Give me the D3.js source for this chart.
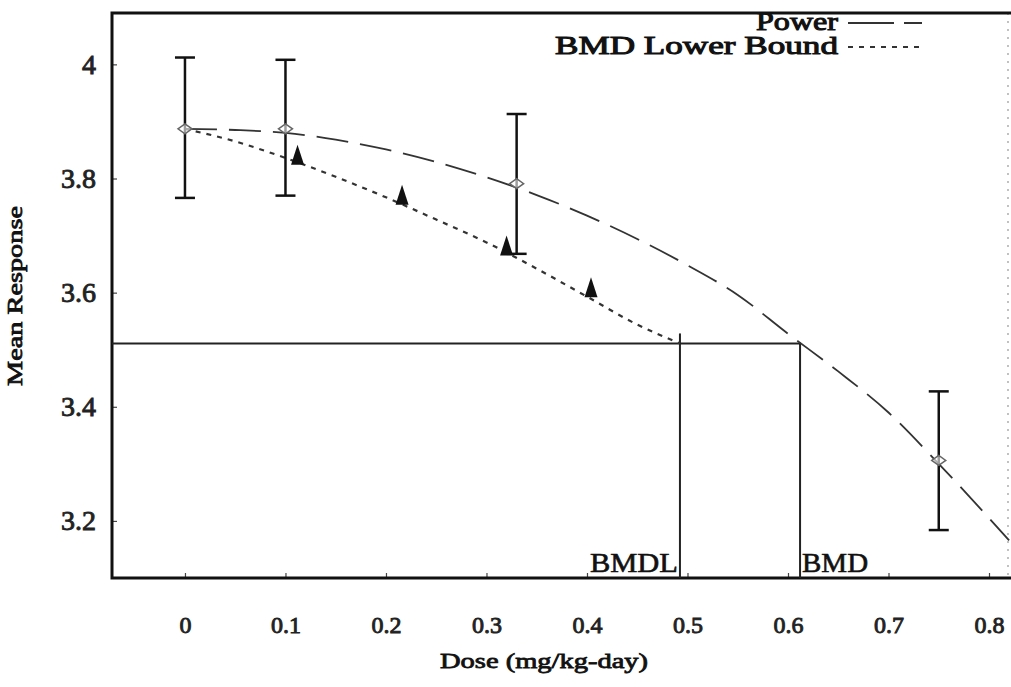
<!DOCTYPE html>
<html>
<head>
<meta charset="utf-8">
<script src="https://cdn.jsdelivr.net/npm/d3@7"></script>
<style>
  body { margin: 0; background: #fff; }
</style>
</head>
<body>
<div id="plot"></div>
<script>
////////////////////////////////////////////////////////////////////////
// Data

// observed group means with error bars
let doses = [0, 0.1, 0.33, 0.75];
let means = [3.887, 3.887, 3.791, 3.306];
let upper = [4.012, 4.008, 3.913, 3.427];
let lower = [3.766, 3.770, 3.668, 3.184];

// fitted power model curve
let powerDose = [0, 0.05, 0.1, 0.15, 0.2, 0.25, 0.3, 0.35, 0.4, 0.45, 0.5, 0.55, 0.6, 0.65, 0.7, 0.75, 0.8, 0.82];
let powerResp = [3.887, 3.885, 3.880, 3.868, 3.851, 3.829, 3.802, 3.771, 3.735, 3.694, 3.648, 3.596, 3.528, 3.462, 3.390, 3.300, 3.205, 3.166];

// BMD lower bound curve
let lowerDose = [0, 0.05, 0.1, 0.15, 0.2, 0.25, 0.3, 0.35, 0.4, 0.45, 0.4925];
let lowerResp = [3.887, 3.865, 3.836, 3.803, 3.767, 3.728, 3.688, 3.642, 3.593, 3.544, 3.511];

// triangle markers on the lower bound
let triDose = [0.112, 0.216, 0.32, 0.404];
let triResp = [3.838, 3.768, 3.679, 3.606];

let bmr = 3.511;
let bmd = 0.612;
let bmdl = 0.4925;

let xTicks = [0, 0.1, 0.2, 0.3, 0.4, 0.5, 0.6, 0.7, 0.8];
let yTicks = [3.2, 3.4, 3.6, 3.8, 4];

////////////////////////////////////////////////////////////////////////
// Scales

let width = 1011, height = 687;
let box = { left: 112, right: 1008, top: 13, bottom: 578 };
let serif = "'Liberation Serif', 'Times New Roman', serif";

let xScale = d3.scaleLinear().domain([-0.0726, 0.8189]).range([box.left, box.right]);
let yScale = d3.scaleLinear().domain([3.1, 4.09]).range([box.bottom, box.top]);

let svg = d3.select("#plot").append("svg")
  .attr("width", width)
  .attr("height", height);

let line = d3.line()
  .x(d => xScale(d[0]))
  .y(d => yScale(d[1]))
  .curve(d3.curveMonotoneX);

// the scan's text is a heavy serif; thicken the regular face with a stroke
function heavy(sel, size, w) {
  return sel
    .attr("font-family", serif)
    .attr("font-size", size)
    .attr("fill", "#111")
    .attr("stroke", "#111")
    .attr("stroke-width", w);
}

////////////////////////////////////////////////////////////////////////
// Frame and axes

// right edge of the box is faint in the scan
svg.append("line")
  .attr("x1", box.right).attr("x2", box.right)
  .attr("y1", box.top).attr("y2", box.bottom)
  .attr("stroke", "#999")
  .attr("stroke-width", 1.2)
  .attr("stroke-dasharray", "2 6");

let xAxis = svg.append("g")
  .attr("transform", "translate(0," + box.bottom + ")")
  .call(d3.axisBottom(xScale).tickValues(xTicks).tickSize(-5).tickPadding(38)
    .tickFormat(d => d === 0 ? "0" : d3.format(".1f")(d)));

let yAxis = svg.append("g")
  .attr("transform", "translate(" + box.left + ",0)")
  .call(d3.axisLeft(yScale).tickValues(yTicks).tickSize(-5).tickPadding(16)
    .tickFormat(d => d === 4 ? "4" : d3.format(".1f")(d)));

[xAxis, yAxis].forEach(g => {
  g.select(".domain").remove();
  g.selectAll(".tick line").attr("stroke", "#444").attr("stroke-width", 1.2);
  g.selectAll(".tick text").call(heavy, 24, 0.9).attr("fill", "#222").attr("stroke", "#222");
});
yAxis.selectAll(".tick text").attr("font-size", 28);

// box: left, top and bottom are heavy
svg.append("path")
  .attr("d", "M" + width + "," + box.top + " H" + box.left + " V" + box.bottom + " H" + width)
  .attr("fill", "none")
  .attr("stroke", "#111")
  .attr("stroke-width", 3);

////////////////////////////////////////////////////////////////////////
// BMR / BMD / BMDL reference lines

svg.append("path")
  .attr("d", "M" + box.left + "," + yScale(bmr) + " H" + xScale(bmd) + " V" + box.bottom)
  .attr("fill", "none")
  .attr("stroke", "#222")
  .attr("stroke-width", 2);

svg.append("line")
  .attr("x1", xScale(bmdl)).attr("x2", xScale(bmdl))
  .attr("y1", yScale(bmr) - 10).attr("y2", box.bottom)
  .attr("stroke", "#222")
  .attr("stroke-width", 2);

svg.append("text")
  .attr("x", xScale(bmdl) - 2)
  .attr("y", box.bottom - 6)
  .attr("text-anchor", "end")
  .call(heavy, 27, 0.6)
  .attr("textLength", 88)
  .attr("lengthAdjust", "spacingAndGlyphs")
  .text("BMDL");

svg.append("text")
  .attr("x", xScale(bmd) + 2)
  .attr("y", box.bottom - 6)
  .call(heavy, 27, 0.6)
  .attr("textLength", 66)
  .attr("lengthAdjust", "spacingAndGlyphs")
  .text("BMD");

////////////////////////////////////////////////////////////////////////
// Curves

svg.append("path")
  .datum(d3.zip(powerDose, powerResp))
  .attr("d", line)
  .attr("fill", "none")
  .attr("stroke", "#333")
  .attr("stroke-width", 1.8)
  .attr("stroke-dasharray", "32 12");

svg.append("path")
  .datum(d3.zip(lowerDose, lowerResp))
  .attr("d", line)
  .attr("fill", "none")
  .attr("stroke", "#333")
  .attr("stroke-width", 2.2)
  .attr("stroke-dasharray", "5 6");

////////////////////////////////////////////////////////////////////////
// Error bars and means

let bars = svg.append("g").selectAll("g")
  .data(d3.range(doses.length))
  .enter()
  .append("g");

bars.append("line")
  .attr("x1", i => xScale(doses[i])).attr("x2", i => xScale(doses[i]))
  .attr("y1", i => yScale(upper[i])).attr("y2", i => yScale(lower[i]))
  .attr("stroke", "#111").attr("stroke-width", 2.5);

[upper, lower].forEach(arr => {
  bars.append("line")
    .attr("x1", i => xScale(doses[i]) - 10).attr("x2", i => xScale(doses[i]) + 10)
    .attr("y1", i => yScale(arr[i])).attr("y2", i => yScale(arr[i]))
    .attr("stroke", "#111").attr("stroke-width", 2.5);
});

bars.append("path")
  .attr("transform", i => "translate(" + xScale(doses[i]) + "," + yScale(means[i]) + ")")
  .attr("d", "M-7,0 L0,-5 L7,0 L0,5 Z")
  .attr("fill", "#fff")
  .attr("fill-opacity", 0.6)
  .attr("stroke", "#666")
  .attr("stroke-width", 1.5);

// triangles
svg.append("g").selectAll("path")
  .data(d3.range(triDose.length))
  .enter()
  .append("path")
  .attr("transform", i => "translate(" + xScale(triDose[i]) + "," + yScale(triResp[i]) + ")")
  .attr("d", "M0,-12 L6.5,8 L-6.5,8 Z")
  .attr("fill", "#111");

////////////////////////////////////////////////////////////////////////
// Legend

let legend = [
  { label: "Power", dash: "46 10 18 0", y: 30, w: 1.8, len: 82 },
  { label: "BMD Lower Bound", dash: "5 6", y: 54, w: 2.2, len: 283 }
];

legend.forEach(d => {
  svg.append("text")
    .attr("x", 838).attr("y", d.y)
    .attr("text-anchor", "end")
    .call(heavy, 25, 1)
    .attr("textLength", d.len)
    .attr("lengthAdjust", "spacingAndGlyphs")
    .text(d.label);
  svg.append("line")
    .attr("x1", 848).attr("x2", 922)
    .attr("y1", d.y - 7).attr("y2", d.y - 7)
    .attr("stroke", "#333")
    .attr("stroke-width", d.w)
    .attr("stroke-dasharray", d.dash);
});

////////////////////////////////////////////////////////////////////////
// Axis titles

svg.append("text")
  .attr("x", 544).attr("y", 668)
  .attr("text-anchor", "middle")
  .call(heavy, 22, 0.8)
  .attr("textLength", 208)
  .attr("lengthAdjust", "spacingAndGlyphs")
  .text("Dose (mg/kg-day)");

svg.append("text")
  .attr("transform", "translate(22,296) rotate(-90)")
  .attr("text-anchor", "middle")
  .call(heavy, 22, 0.8)
  .attr("textLength", 180)
  .attr("lengthAdjust", "spacingAndGlyphs")
  .text("Mean Response");
</script>
</body>
</html>
